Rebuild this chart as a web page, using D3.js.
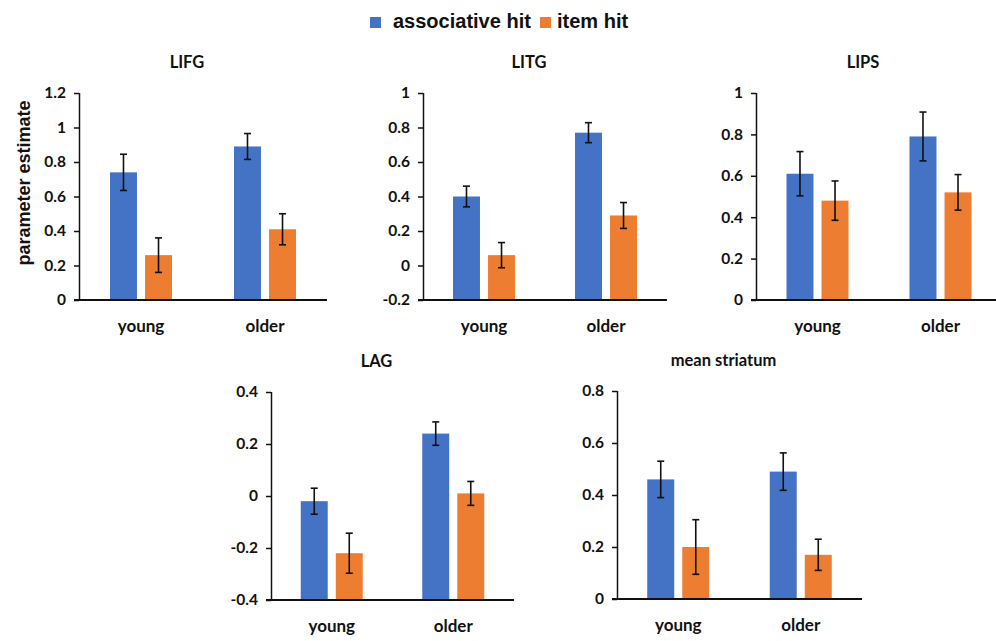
<!DOCTYPE html>
<html>
<head>
<meta charset="utf-8">
<script src="https://cdn.jsdelivr.net/npm/d3@7"></script>
<style>
  body { margin: 0; background: #fff; }
  svg { display: block; }
  .tick text { font-family: Lato, "Open Sans", sans-serif; font-weight: 700; font-size: 15.5px; fill: #111; }
</style>
</head>
<body>
<div id="chart-area"></div>
<script>
// data
var groups = ["young", "older"];
var series = ["associative hit", "item hit"];
var regions = ["LIFG", "LITG", "LIPS", "LAG", "mean striatum"];
var assocMean = [[0.74, 0.89], [0.40, 0.77], [0.61, 0.79], [-0.02, 0.24], [0.46, 0.49]];
var assocErr = [[0.105, 0.075], [0.06, 0.058], [0.107, 0.118], [0.05, 0.045], [0.07, 0.072]];
var itemMean = [[0.26, 0.41], [0.06, 0.29], [0.48, 0.52], [-0.22, 0.01], [0.20, 0.17]];
var itemErr = [[0.10, 0.09], [0.073, 0.075], [0.095, 0.086], [0.077, 0.046], [0.105, 0.06]];
var yDomains = [[0, 1.2], [-0.2, 1], [0, 1], [-0.4, 0.4], [0, 0.8]];
var colors = ["#4472C4", "#ED7D31"];

// panel boxes in pixels
var boxes = [
  { l: 79, r: 327, t: 93, b: 300 },
  { l: 423, r: 667, t: 93, b: 300 },
  { l: 756, r: 1002, t: 93, b: 300 },
  { l: 271, r: 514, t: 392, b: 600 },
  { l: 617, r: 862, t: 391, b: 599 }
];

var svg = d3.select("#chart-area").append("svg")
  .attr("width", 996)
  .attr("height", 641);

// legend
var legend = svg.append("g").attr("transform", "translate(370,17)");
var legBox = [0, 170];
var legText = [23, 187];
series.forEach(function (s, i) {
  legend.append("rect")
    .attr("x", legBox[i]).attr("y", 0)
    .attr("width", 11).attr("height", 11)
    .attr("fill", colors[i]);
  legend.append("text")
    .attr("x", legText[i]).attr("y", 11)
    .attr("font-family", "'Liberation Sans', Arial, sans-serif")
    .attr("font-weight", 700)
    .attr("font-size", 20)
    .attr("fill", "#111")
    .text(s);
});

// y axis title
svg.append("text")
  .attr("transform", "translate(30,183) rotate(-90)")
  .attr("text-anchor", "middle")
  .attr("font-family", "'Liberation Sans', Arial, sans-serif")
  .attr("font-weight", 700)
  .attr("font-size", 18)
  .attr("fill", "#111")
  .text("parameter estimate");

regions.forEach(function (name, p) {
  var box = boxes[p];
  var dom = yDomains[p];
  var g = svg.append("g");

  var y = d3.scaleLinear().domain(dom).range([box.b, box.t]);
  var x0 = d3.scaleBand().domain(groups).range([box.l, box.r]);
  var x1 = d3.scaleBand().domain(series).range([-31, 31]).paddingInner(0.23);

  var n = Math.round((dom[1] - dom[0]) / 0.2);
  var ticks = d3.range(0, n + 1).map(function (i) { return +(dom[0] + i * 0.2).toFixed(1) });

  var rows = [];
  groups.forEach(function (grp, j) {
    rows.push({ grp: grp, s: series[0], v: assocMean[p][j], e: assocErr[p][j], c: colors[0] });
    rows.push({ grp: grp, s: series[1], v: itemMean[p][j], e: itemErr[p][j], c: colors[1] });
  });

  // bars start at the axis floor like Excel
  g.selectAll("rect.bar")
    .data(rows)
    .enter()
    .append("rect")
    .attr("class", "bar")
    .attr("x", function (d) { return x0(d.grp) + x0.bandwidth() / 2 + x1(d.s) })
    .attr("y", function (d) { return y(d.v) })
    .attr("width", x1.bandwidth())
    .attr("height", function (d) { return y(dom[0]) - y(d.v) })
    .attr("fill", function (d) { return d.c });

  // error bars
  var eb = g.selectAll("g.err")
    .data(rows)
    .enter()
    .append("g")
    .attr("class", "err")
    .attr("stroke", "#111")
    .attr("stroke-width", 1.6);
  function cx(d) { return x0(d.grp) + x0.bandwidth() / 2 + x1(d.s) + x1.bandwidth() / 2 }
  eb.append("line")
    .attr("x1", cx).attr("x2", cx)
    .attr("y1", function (d) { return y(d.v + d.e) })
    .attr("y2", function (d) { return y(d.v - d.e) });
  [1, -1].forEach(function (sg) {
    eb.append("line")
      .attr("x1", function (d) { return cx(d) - 3.5 })
      .attr("x2", function (d) { return cx(d) + 3.5 })
      .attr("y1", function (d) { return y(d.v + sg * d.e) })
      .attr("y2", function (d) { return y(d.v + sg * d.e) });
  });

  // y axis
  var yAxis = g.append("g")
    .attr("transform", "translate(" + box.l + ",0)")
    .call(d3.axisLeft(y).tickValues(ticks).tickSize(5).tickPadding(8)
      .tickFormat(function (d) { return String(d) }));
  yAxis.select(".domain").attr("stroke", "#111").attr("stroke-width", 1.5).attr("d", "M0.5," + box.t + "V" + box.b);
  yAxis.selectAll(".tick line").attr("stroke", "#111").attr("stroke-width", 1.5);

  // x axis line
  g.append("line")
    .attr("x1", box.l - 5).attr("x2", box.r)
    .attr("y1", y(dom[0])).attr("y2", y(dom[0]))
    .attr("stroke", "#111")
    .attr("stroke-width", 2.2);

  // category labels
  g.selectAll("text.cat")
    .data(groups)
    .enter()
    .append("text")
    .attr("class", "cat")
    .attr("x", function (d) { return x0(d) + x0.bandwidth() / 2 })
    .attr("y", box.b + 32)
    .attr("text-anchor", "middle")
    .attr("font-family", "Lato, 'Open Sans', sans-serif")
    .attr("font-weight", 700)
    .attr("font-size", 17)
    .attr("fill", "#111")
    .text(function (d) { return d });

  // panel title
  g.append("text")
    .attr("x", (box.l + box.r) / 2 - 16)
    .attr("y", box.t - 25)
    .attr("text-anchor", "middle")
    .attr("font-family", "Lato, 'Open Sans', sans-serif")
    .attr("font-weight", 700)
    .attr("font-size", 16.5)
    .attr("fill", "#111")
    .text(name);
});
</script>
</body>
</html>
